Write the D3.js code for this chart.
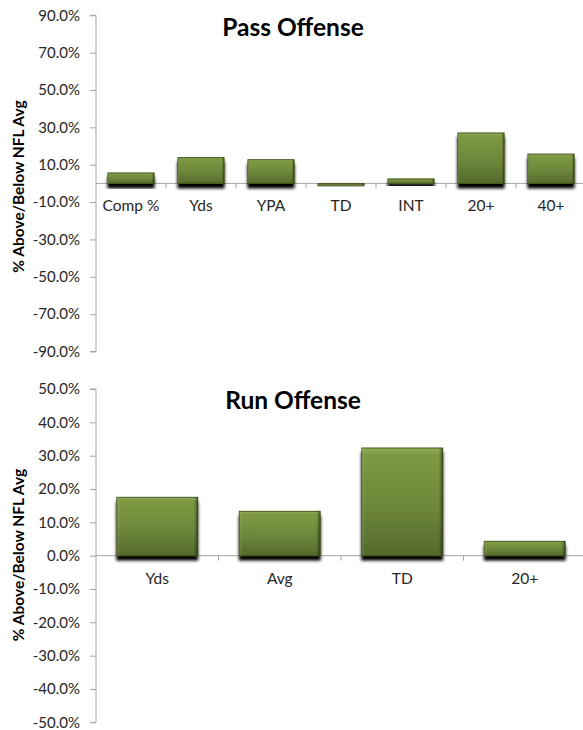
<!DOCTYPE html>
<html>
<head>
<meta charset="utf-8">
<script src="https://cdn.jsdelivr.net/npm/d3@7"></script>
<style>
  html, body { margin: 0; padding: 0; background: #fff; }
  svg { display: block; font-family: Lato, "Open Sans", sans-serif; }
</style>
</head>
<body>
<svg id="chart" width="583" height="730"></svg>
<script>
// ---- data ----
const passCategories = ["Comp %", "Yds", "YPA", "TD", "INT", "20+", "40+"];
const passValues = [5.6, 13.8, 12.7, -1.0, 2.4, 27.0, 15.7];
const passTicks = [-90, -70, -50, -30, -10, 10, 30, 50, 70, 90];

const runCategories = ["Yds", "Avg", "TD", "20+"];
const runValues = [17.5, 13.3, 32.3, 4.3];
const runTicks = [-50, -40, -30, -20, -10, 0, 10, 20, 30, 40, 50];

const yAxisTitle = "% Above/Below NFL Avg";

// ---- setup ----
const svg = d3.select("#chart");
const defs = svg.append("defs");

const grad = defs.append("linearGradient").attr("id", "barGrad")
  .attr("x1", 0).attr("y1", 0).attr("x2", 0).attr("y2", 1);
grad.append("stop").attr("offset", "0%").attr("stop-color", "#93ad5a");
grad.append("stop").attr("offset", "6%").attr("stop-color", "#7f9a43");
grad.append("stop").attr("offset", "55%").attr("stop-color", "#6d873a");
grad.append("stop").attr("offset", "100%").attr("stop-color", "#55692c");

const hgrad = defs.append("linearGradient").attr("id", "barEdge")
  .attr("x1", 0).attr("y1", 0).attr("x2", 1).attr("y2", 0);
hgrad.append("stop").attr("offset", "0%").attr("stop-color", "#ffffff").attr("stop-opacity", 0.12);
hgrad.append("stop").attr("offset", "4%").attr("stop-color", "#ffffff").attr("stop-opacity", 0);
hgrad.append("stop").attr("offset", "95%").attr("stop-color", "#000000").attr("stop-opacity", 0);
hgrad.append("stop").attr("offset", "100%").attr("stop-color", "#000000").attr("stop-opacity", 0.4);

const filt = defs.append("filter").attr("id", "shadow")
  .attr("x", "-20%").attr("y", "-20%").attr("width", "140%").attr("height", "170%");
filt.append("feDropShadow").attr("dx", 0).attr("dy", 4.5).attr("stdDeviation", 1.6)
  .attr("flood-color", "#000").attr("flood-opacity", 1);

const fmt = v => (v < 0 ? "-" : "") + Math.abs(v).toFixed(1) + "%";

function drawChart(cfg) {
  const g = svg.append("g");
  const y = d3.scaleLinear().domain(cfg.domain).range([cfg.yBottom, cfg.yTop]);
  const x = d3.scaleBand().domain(cfg.categories).range([96, 586])
    .paddingInner(0.34).paddingOuter(0.17);
  const y0 = y(0);

  // y axis
  const yAxis = d3.axisLeft(y).tickValues(cfg.ticks).tickFormat(fmt)
    .tickSize(6).tickPadding(10);
  const ya = g.append("g").attr("transform", "translate(96,0)").call(yAxis);
  ya.select(".domain").attr("stroke", "#a6a6a6").attr("d", `M-6,${y(cfg.domain[1])}H0V${y(cfg.domain[0])}H-6`);
  ya.selectAll(".tick line").attr("stroke", "#a6a6a6");
  ya.selectAll(".tick text").attr("fill", "#262626").style("font-size", "15px")
    .style("font-family", "Lato, sans-serif");

  // zero/category axis
  const step = x.step();
  g.append("line").attr("x1", 96).attr("x2", 586).attr("y1", y0).attr("y2", y0)
    .attr("stroke", "#a6a6a6");
  g.selectAll(".ctick").data(d3.range(1, cfg.categories.length))
    .join("line").attr("class", "ctick")
    .attr("x1", i => 96 + i * step).attr("x2", i => 96 + i * step)
    .attr("y1", y0).attr("y2", y0 + 5).attr("stroke", "#a6a6a6");

  const xAxis = d3.axisBottom(x).tickSize(0).tickPadding(0);
  const xa = g.append("g").attr("transform", `translate(0,${y0})`).call(xAxis);
  xa.select(".domain").remove();
  xa.selectAll(".tick text").attr("dy", null).attr("y", 28)
    .attr("fill", "#262626").style("font-size", "15.5px")
    .style("font-family", "Lato, sans-serif");

  // bars
  const data = cfg.categories.map((c, i) => ({ c, v: cfg.values[i] }));
  const bars = g.append("g");
  bars.selectAll("rect.bar").data(data).join("rect").attr("class", "bar")
    .attr("x", d => x(d.c)).attr("width", x.bandwidth())
    .attr("y", d => Math.min(y(d.v), y0))
    .attr("height", d => Math.max(1.5, Math.abs(y(d.v) - y0)))
    .attr("fill", "url(#barGrad)")
    .attr("stroke", "#46581f").attr("stroke-width", 1)
    .attr("filter", "url(#shadow)");
  bars.selectAll("rect.edge").data(data).join("rect").attr("class", "edge")
    .attr("x", d => x(d.c)).attr("width", x.bandwidth())
    .attr("y", d => Math.min(y(d.v), y0))
    .attr("height", d => Math.max(1.5, Math.abs(y(d.v) - y0)))
    .attr("fill", "url(#barEdge)");

  // title
  g.append("text").attr("x", 293).attr("y", cfg.titleY).attr("text-anchor", "middle")
    .style("font-size", "24.5px").style("font-weight", "bold").attr("fill", "#000")
    .text(cfg.title);

  // y title
  g.append("text")
    .attr("transform", `translate(24,${cfg.yTitleCenter}) rotate(-90)`)
    .attr("text-anchor", "middle")
    .style("font-size", "15.5px").style("font-weight", "bold").attr("fill", "#000")
    .text(yAxisTitle);
}

drawChart({
  categories: passCategories, values: passValues, ticks: passTicks,
  domain: [-90, 90], yTop: 15.3, yBottom: 351.5,
  title: "Pass Offense", titleY: 36, yTitleCenter: 186.5
});

drawChart({
  categories: runCategories, values: runValues, ticks: runTicks,
  domain: [-50, 50], yTop: 389, yBottom: 722.3,
  title: "Run Offense", titleY: 409, yTitleCenter: 555
});
</script>
</body>
</html>
